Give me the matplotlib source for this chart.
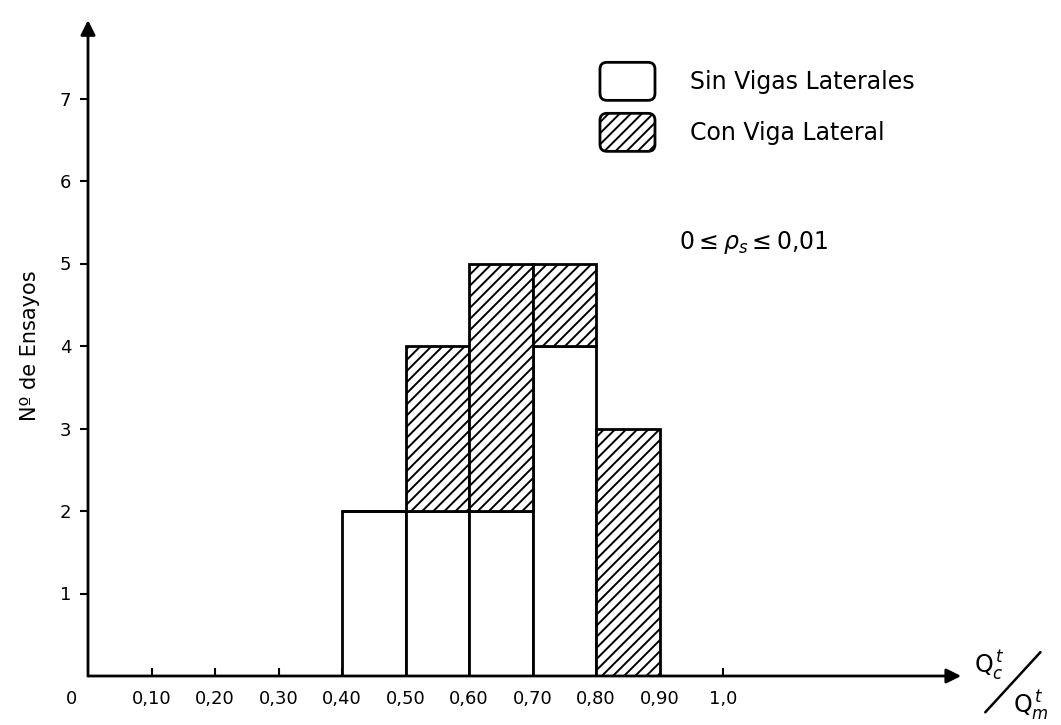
import matplotlib.pyplot as plt
from matplotlib.patches import Patch, FancyBboxPatch
from matplotlib.legend_handler import HandlerPatch

# test counts per Qc/Qm class (width 0.10)
bin_left = [0.40, 0.50, 0.60, 0.70, 0.80]
sin_vigas = [2, 2, 2, 4, 0]
con_viga = [0, 2, 3, 1, 3]

x_ticks = [0.10, 0.20, 0.30, 0.40, 0.50, 0.60, 0.70, 0.80, 0.90, 1.0]
x_tick_labels = ["0,10", "0,20", "0,30", "0,40", "0,50", "0,60", "0,70", "0,80", "0,90", "1,0"]
y_ticks = [1, 2, 3, 4, 5, 6, 7]

FONT = ["Liberation Sans Narrow", "DejaVu Sans"]
plt.rcParams["font.family"] = FONT
plt.rcParams["hatch.linewidth"] = 1.4


class RoundBoxHandler(HandlerPatch):
    # legend swatch with rounded corners
    def create_artists(self, legend, orig_handle, xdescent, ydescent,
                       width, height, fontsize, trans):
        p = FancyBboxPatch((-xdescent, -ydescent), width, height,
                           boxstyle="round,pad=0,rounding_size=5",
                           facecolor="white", edgecolor="black",
                           hatch=orig_handle.get_hatch(), linewidth=2.0,
                           transform=trans)
        return [p]


fig = plt.figure(figsize=(10.61, 7.25), dpi=100)
ax = fig.add_axes([88 / 1061, 49 / 725, 889 / 1061, 660 / 725])
ax.set_xlim(0, 1.40)
ax.set_ylim(0, 8)

ax.bar(bin_left, sin_vigas, width=0.1, align="edge", color="white",
       edgecolor="black", linewidth=2.0, zorder=2)
ax.bar(bin_left, con_viga, width=0.1, align="edge", bottom=sin_vigas,
       color="white", edgecolor="black", hatch="///", linewidth=2.0, zorder=2)

for s in ax.spines.values():
    s.set_visible(False)

# axes drawn as arrows
ax.annotate("", xy=(1.375, 0), xytext=(0, 0), xycoords="data",
            arrowprops=dict(arrowstyle="-|>", lw=2.0, color="black",
                            mutation_scale=22, shrinkA=0, shrinkB=0),
            zorder=3, annotation_clip=False)
ax.annotate("", xy=(0, 7.95), xytext=(0, 0), xycoords="data",
            arrowprops=dict(arrowstyle="-|>", lw=2.0, color="black",
                            mutation_scale=22, shrinkA=0, shrinkB=0),
            zorder=3, annotation_clip=False)

ax.set_xticks(x_ticks)
ax.set_xticklabels(x_tick_labels)
ax.set_yticks(y_ticks)
ax.tick_params(axis="x", direction="in", length=6, width=1.5, labelsize=13, pad=10)
ax.tick_params(axis="y", direction="out", length=6, width=1.5, labelsize=13, pad=6)
ax.text(-0.026, -0.28, "0", fontsize=13, ha="center", va="center")

ax.set_ylabel("Nº de Ensayos", fontsize=15, labelpad=14)

# x label as slanted fraction Qc / Qm
ax.text(1.42, 0.13, r"$\mathsf{Q}_c^{\,t}$", fontsize=17, ha="center", va="center")
ax.text(1.485, -0.35, r"$\mathsf{Q}_m^{\,t}$", fontsize=17, ha="center", va="center")
ax.annotate("", xy=(1.50, 0.29), xytext=(1.413, -0.44), xycoords="data",
            arrowprops=dict(arrowstyle="-", lw=1.8, color="black",
                            shrinkA=0, shrinkB=0), annotation_clip=False)

handles = [
    Patch(facecolor="white", edgecolor="black", linewidth=2.0),
    Patch(facecolor="white", edgecolor="black", hatch="///", linewidth=2.0),
]
ax.legend(handles, ["Sin Vigas Laterales", "Con Viga Lateral"],
          loc="upper left", bbox_to_anchor=(0.552, 0.962), frameon=False,
          fontsize=17, handlelength=2.33, handleheight=2.1,
          labelspacing=0.55, handletextpad=1.5,
          handler_map={Patch: RoundBoxHandler()})

ax.text(0.93, 5.25, r"$0 \leq \rho_s \leq 0{,}01$", fontsize=17,
        ha="left", va="center")

fig.savefig("out.png", dpi=100)
